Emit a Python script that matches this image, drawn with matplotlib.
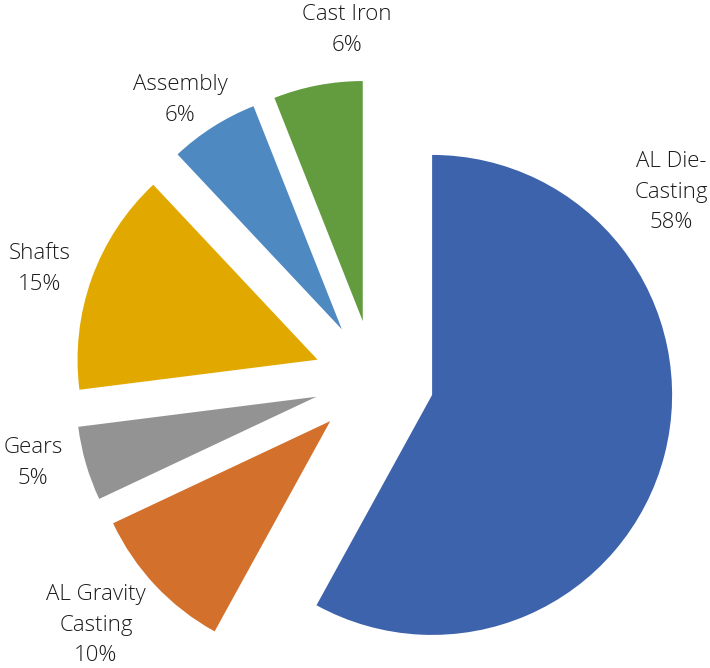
import matplotlib
matplotlib.use('Agg')
import matplotlib.pyplot as plt

categories = ['AL Die-\nCasting', 'AL Gravity\nCasting', 'Gears', 'Shafts', 'Assembly', 'Cast Iron']
shares = [58, 10, 5, 15, 6, 6]
colors = ['#3D63AD', '#D2702C', '#939393', '#E1A900', '#4F89C1', '#639B3F']
# label block centres, in pixels from top-left
label_px = [(671, 192), (96, 625), (33, 463), (40, 269), (180, 100), (347, 30)]

W, H = 710, 668
R = 240.0           # pie radius, pixels
CX, CY = 374, 380   # pie centre, pixels

fig = plt.figure(figsize=(W / 100, H / 100), dpi=100)
ax = fig.add_axes([0, 0, 1, 1])
ax.pie(shares, colors=colors, startangle=90, counterclock=False,
       explode=[0.25] * len(shares), radius=1,
       wedgeprops={'linewidth': 0})
ax.set_xlim(-CX / R, (W - CX) / R)
ax.set_ylim(-(H - CY) / R, CY / R)
ax.set_aspect('equal')
ax.axis('off')

for cat, val, (px, py) in zip(categories, shares, label_px):
    fig.text(px / W, 1 - py / H, '{0}\n{1}%'.format(cat, val),
             ha='center', va='center', fontsize=16, color='#1a1a1a',
             family='Open Sans', weight='light', linespacing=1.6)

fig.savefig('out.png', dpi=100)
